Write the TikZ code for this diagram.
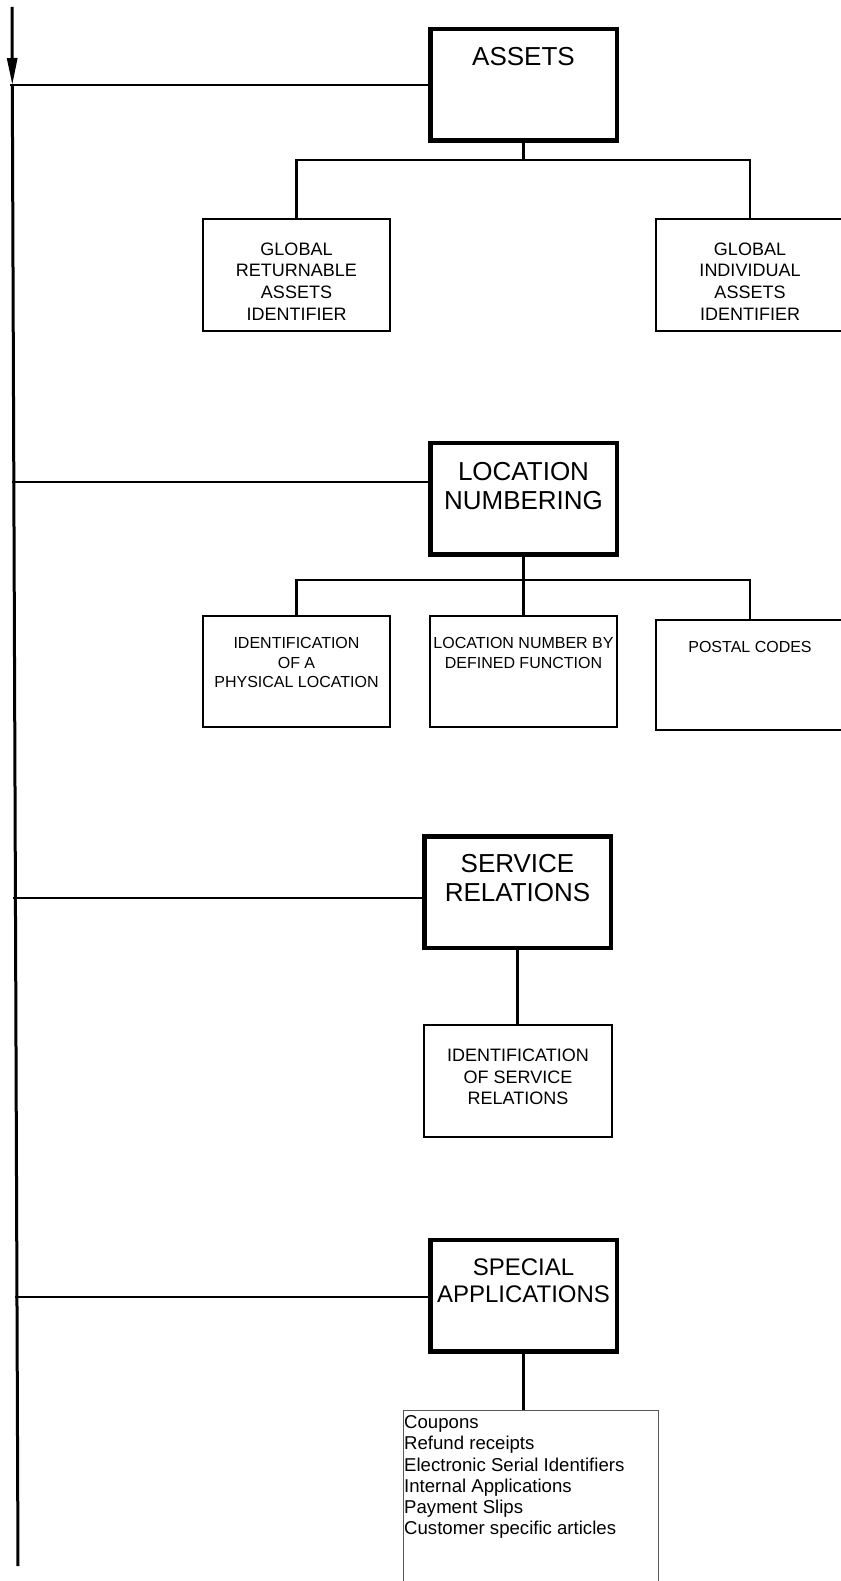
\documentclass[tikz,border=0pt]{standalone}
\usepackage{fontspec}
\setmainfont{Liberation Sans}
\usetikzlibrary{arrows.meta}
\begin{document}
\begin{tikzpicture}[x=1pt,y=-1pt,
  mainbox/.style={draw, line width=4.5pt, inner sep=0pt, minimum width=186.5pt, minimum height=111.5pt},
  subbox/.style={draw, line width=2pt, inner sep=0pt, minimum width=187pt, minimum height=112pt},
  maintext/.style={inner sep=0pt, align=center, font=\fontsize{26}{29}\selectfont},
  subtext/.style={inner sep=0pt, align=center, font=\fontsize{18}{21.7}\selectfont},
  smalltext/.style={inner sep=0pt, align=center, font=\fontsize{16}{19.5}\selectfont},
  spine/.style={line width=3pt},
  link/.style={line width=2.7pt},
  tree/.style={line width=2.5pt}
]
\useasboundingbox (0,0) rectangle (840,1581);

% main vertical line with its arrow
\coordinate (top) at (12,7);
\coordinate (bot) at (18,1566);
\coordinate (j1) at (12.3,85);
\coordinate (j2) at (13.8,482);
\coordinate (j3) at (15.4,898);
\coordinate (j4) at (17.0,1297);
\draw[spine, -{Triangle[length=27pt,width=10pt]}] (top) -- (j1);
\draw[spine] (j1) -- (bot);

% ASSETS
\node[mainbox] (assets) at (523.5,85) {};
\node[maintext] (assetslbl) at (523.5,57) {ASSETS};
\node[subbox] (grai) at (296.5,274.5) {};
\node[subtext] (grailbl) at (296.5,281.5) {GLOBAL\\RETURNABLE\\ASSETS\\IDENTIFIER};
\node[subbox, minimum width=188pt] (giai) at (750,274.5) {};
\node[subtext] (giailbl) at (750,281.5) {GLOBAL\\INDIVIDUAL\\ASSETS\\IDENTIFIER};
\coordinate (bus1) at (523.5,160);
\draw[link, shorten <=-2pt] (j1) -- (j1 -| assets.west);
\draw[tree] (assets.south) -- (bus1);
\draw[tree] (grai.north) -- (grai.north |- bus1) -- (giai.north |- bus1) -- (giai.north);

% LOCATION NUMBERING
\node[mainbox] (locnum) at (523.5,498.5) {};
\node[maintext] (locnumlbl) at (523.5,486.5) {LOCATION\\NUMBERING};
\node[subbox, minimum height=111pt] (loc1) at (296.5,671.5) {};
\node[smalltext] (loc1lbl) at (296.5,662.5) {IDENTIFICATION\\OF A\\PHYSICAL LOCATION};
\node[subbox, minimum height=111pt] (loc2) at (523.5,671.5) {};
\node[smalltext] (loc2lbl) at (523.5,653) {LOCATION NUMBER BY\\DEFINED FUNCTION};
\node[subbox, minimum width=188pt, minimum height=110pt] (postal) at (750,675) {};
\node[smalltext] (postallbl) at (750,647) {POSTAL CODES};
\coordinate (bus2) at (523.5,580);
\draw[link, shorten <=-2pt] (j2) -- (j2 -| locnum.west);
\draw[tree] (locnum.south) -- (loc2.north);
\draw[tree] (loc1.north) -- (loc1.north |- bus2) -- (postal.north |- bus2) -- (postal.north);

% SERVICE RELATIONS
\node[mainbox] (serv) at (517.5,892) {};
\node[maintext] (servlbl) at (517.5,878) {SERVICE\\RELATIONS};
\node[subbox, minimum width=188pt] (servid) at (518,1081) {};
\node[subtext] (servidlbl) at (518,1077) {IDENTIFICATION\\OF SERVICE\\RELATIONS};
\draw[link, shorten <=-2pt] (j3) -- (j3 -| serv.west);
\draw[tree] (serv.south) -- (serv.south |- servid.north);

% SPECIAL APPLICATIONS
\node[mainbox] (spec) at (523.5,1295.5) {};
\node[maintext, font=\fontsize{24}{27.5}\selectfont] (speclbl) at (523.5,1280.5) {SPECIAL\\APPLICATIONS};
\node[draw=black!65, line width=1pt, inner sep=0pt, minimum width=255pt, minimum height=190pt] (speclist) at (530.5,1505) {};
\node[inner sep=0pt, anchor=north west, align=left, font=\fontsize{18.6}{21.2}\selectfont] (speclistlbl) at (404,1415.5)
  {Coupons\\Refund receipts\\Electronic Serial Identifiers\\Internal Applications\\Payment Slips\\Customer specific articles};
\draw[link, shorten <=-2pt] (j4) -- (j4 -| spec.west);
\draw[tree] (spec.south) -- (spec.south |- speclist.north);
\end{tikzpicture}
\end{document}
